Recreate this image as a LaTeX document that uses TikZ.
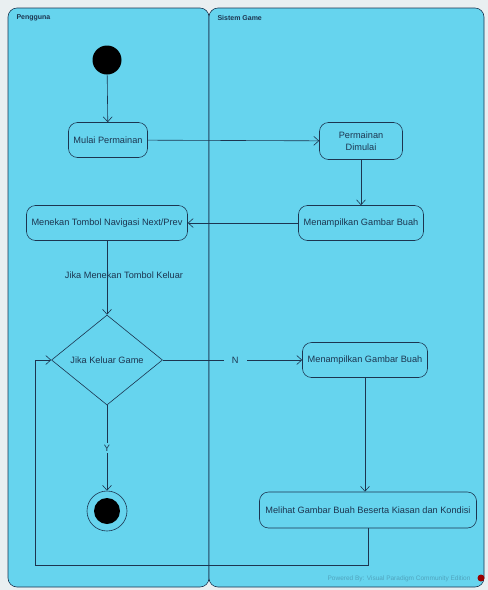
\documentclass[tikz,border=0pt]{standalone}
\usepackage{fontspec}
\setsansfont{Liberation Sans}
\usetikzlibrary{arrows.meta, positioning, shapes.geometric}
\definecolor{lanebg}{HTML}{66D4EE}
\definecolor{ink}{HTML}{1C3550}
\definecolor{paper}{HTML}{E9EFF1}

\begin{document}
\begin{tikzpicture}[x=1pt, y=-1pt, font=\sffamily\fontsize{9.2}{12}\selectfont,
  act/.style={draw=ink, text=ink, rounded corners=9pt, minimum height=35pt,
              align=center, inner xsep=2pt, inner ysep=3pt, line width=0.6pt},
  flow/.style={-{Straight Barb[length=5pt, width=9pt]}, ink, line width=0.6pt},
  lane/.style={draw=ink, fill=lanebg, rounded corners=9pt, line width=0.6pt},
  lanetitle/.style={anchor=west, font=\sffamily\bfseries\fontsize{7}{8}\selectfont, text=ink}]

% ---- paper and swimlanes --------------------------------------------------
\useasboundingbox (0,0) rectangle (488,590);
\fill[paper] (0,0) rectangle (488,590);
\draw[lane] (8,8) rectangle (209,587);
\draw[lane] (209,8) rectangle (484,587);
\node[lanetitle] (pengguna) at (13,18) {Pengguna};
\node[lanetitle] (sistem) at (214,18) {Sistem Game};

% ---- activities -----------------------------------------------------------
\node[circle, fill=black, minimum size=29pt, inner sep=0pt] (start) at (107,60) {};
\node[act, minimum width=79pt] (mulai) at (108,140) {Mulai Permainan};
\node[act, minimum width=83pt, minimum height=37pt] (dimulai) at (361,141) {Permainan\\Dimulai};
\node[act, minimum width=125pt] (tampil1) at (361,223) {Menampilkan Gambar Buah};
\node[act, minimum width=161pt] (navigasi) at (107,223) {Menekan Tombol Navigasi Next/Prev};
\node[diamond, draw=ink, text=ink, line width=0.6pt, aspect=1.2, inner sep=0pt,
      minimum width=111pt, minimum height=90pt] (keluar) at (107,360) {Jika Keluar Game};
\node[act, minimum width=125pt] (tampil2) at (365,360) {Menampilkan Gambar Buah};
\node[act, minimum width=217pt, minimum height=36pt] (melihat) at (368,510)
  {Melihat Gambar Buah Beserta Kiasan dan Kondisi};
\node[circle, draw=ink, line width=0.6pt, minimum size=40pt, inner sep=0pt] (finish) at (107,511) {};
\fill[black] (finish.center) circle (13pt);
\coordinate (balik) at (35,565);

% ---- flows ----------------------------------------------------------------
\draw[flow] (start) -- (mulai);
\draw[flow] (mulai) -- (dimulai);
\draw[flow] (dimulai) -- (tampil1);
\draw[flow] (tampil1) -- (navigasi);
\draw[flow] (navigasi) -- node[pos=0.46, xshift=17pt, text=ink] {Jika Menekan Tombol Keluar} (keluar);
\draw[flow] (keluar.east) -- node[pos=0.52, fill=lanebg, text=ink, inner xsep=8pt] {N} (tampil2.west);
\draw[flow] (tampil2.south) -- (tampil2.south |- melihat.north);
\draw[flow] (melihat.south) |- (balik) |- (keluar.west);
\draw[flow] (keluar.south) -- node[pos=0.5, fill=lanebg, text=ink, inner sep=2pt] {Y} (finish);

% ---- watermark ------------------------------------------------------------
\node[anchor=east, text=ink!30!lanebg, font=\sffamily\fontsize{6.5}{7}\selectfont] (mark) at (474,579)
  {Powered By: Visual Paradigm Community Edition};
\fill[red!60!black] (481,578) circle (3.5pt);
\end{tikzpicture}
\end{document}
